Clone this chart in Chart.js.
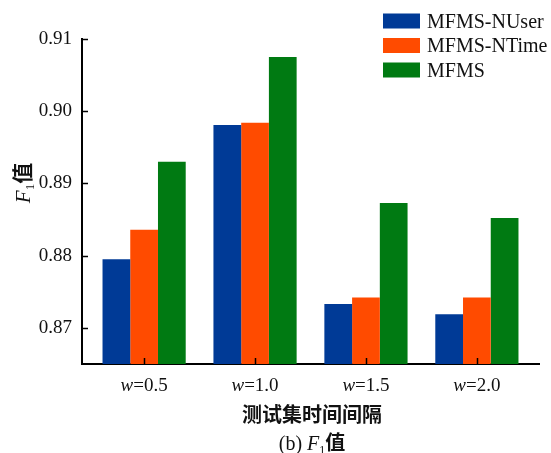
<!DOCTYPE html>
<html><head><meta charset="utf-8">
<script src="https://cdn.jsdelivr.net/npm/chart.js@4"></script>
<style>html,body{margin:0;background:#fff}</style>
</head><body>
<canvas id="c" width="551" height="453"></canvas>
<script>
// F1 scores per test-set time interval w
const categories = ['0.5', '1.0', '1.5', '2.0'];
const seriesNames = ['MFMS-NUser', 'MFMS-NTime', 'MFMS'];
const nuserValues = [0.8795, 0.8981, 0.8733, 0.8719];
const ntimeValues = [0.8836, 0.8984, 0.8742, 0.8742];
const mfmsValues  = [0.8930, 0.9075, 0.8873, 0.8852];
const yTicks = [0.87, 0.88, 0.89, 0.90, 0.91];
const seriesColors = ['#003a96', '#ff4b00', '#007a12'];

const SERIF = "'Liberation Serif', 'Times New Roman', serif";
const CJK = "'Noto Sans CJK SC', sans-serif";

const toPoints = vals => vals.map((v, i) => ({ x: i, y: v }));

// Draws "F" italic with subscript 1 followed by 值, centred horizontally on cx
function drawF1Label(ctx, cx, cy, size, prefix) {
  const parts = [];
  if (prefix) parts.push({ t: prefix, f: `${size}px ${SERIF}`, dy: 0 });
  parts.push({ t: 'F', f: `italic ${size}px ${SERIF}`, dy: 0 });
  parts.push({ t: '1', f: `${Math.round(size * 0.62)}px ${SERIF}`, dy: size * 0.18 });
  parts.push({ t: '值', f: `bold ${size}px ${CJK}`, dy: 0 });
  let total = 0;
  parts.forEach(p => { ctx.font = p.f; p.w = ctx.measureText(p.t).width; total += p.w; });
  let x = cx - total / 2;
  ctx.textBaseline = 'alphabetic';
  ctx.textAlign = 'left';
  parts.forEach(p => { ctx.font = p.f; ctx.fillText(p.t, x, cy + p.dy); x += p.w; });
}

const decorations = {
  id: 'decorations',
  afterDraw(chart) {
    const ctx = chart.ctx;
    const xs = chart.scales.x, ys = chart.scales.y;
    const area = chart.chartArea;
    ctx.save();
    ctx.strokeStyle = '#000';
    ctx.lineWidth = 1.5;
    // inward tick marks
    yTicks.forEach(v => {
      const py = Math.round(ys.getPixelForValue(v)) + 0.5;
      ctx.beginPath(); ctx.moveTo(area.left, py); ctx.lineTo(area.left + 6, py); ctx.stroke();
    });
    categories.forEach((c, i) => {
      const px = Math.round(xs.getPixelForValue(i)) + 0.5;
      ctx.beginPath(); ctx.moveTo(px, area.bottom); ctx.lineTo(px, area.bottom - 6); ctx.stroke();
    });
    ctx.fillStyle = '#111';
    // category labels: italic w + "=value"
    categories.forEach((c, i) => {
      const px = xs.getPixelForValue(i);
      const a = 'w', b = '=' + c;
      ctx.font = `italic 19px ${SERIF}`; const wa = ctx.measureText(a).width;
      ctx.font = `19px ${SERIF}`; const wb = ctx.measureText(b).width;
      let x0 = px - (wa + wb) / 2;
      ctx.textAlign = 'left'; ctx.textBaseline = 'alphabetic';
      ctx.font = `italic 19px ${SERIF}`; ctx.fillText(a, x0, 390.5);
      ctx.font = `19px ${SERIF}`; ctx.fillText(b, x0 + wa, 390.5);
    });
    // axis title
    ctx.font = `bold 20px ${CJK}`;
    ctx.textAlign = 'center'; ctx.textBaseline = 'middle';
    ctx.fillText('测试集时间间隔', 312, 414);
    // caption
    drawF1Label(ctx, 312, 450, 20, '(b) ');
    // y title, rotated
    ctx.save();
    ctx.translate(30, 183);
    ctx.rotate(-Math.PI / 2);
    drawF1Label(ctx, 0, 0, 21, '');
    ctx.restore();
    // legend
    chart.data.datasets.forEach((ds, i) => {
      const cy = 21 + i * 24.5;
      ctx.fillStyle = ds.backgroundColor;
      ctx.fillRect(383, cy - 7.5, 37, 15);
      ctx.fillStyle = '#111';
      ctx.font = `20px ${SERIF}`;
      ctx.textAlign = 'left'; ctx.textBaseline = 'alphabetic';
      ctx.fillText(ds.label, 427, cy + 6.5);
    });
    ctx.restore();
  }
};

new Chart(document.getElementById('c'), {
  type: 'bar',
  data: {
    datasets: [
      { label: seriesNames[0], data: toPoints(nuserValues), backgroundColor: seriesColors[0] },
      { label: seriesNames[1], data: toPoints(ntimeValues), backgroundColor: seriesColors[1] },
      { label: seriesNames[2], data: toPoints(mfmsValues),  backgroundColor: seriesColors[2] }
    ]
  },
  options: {
    responsive: false,
    devicePixelRatio: 1,
    animation: false,
    categoryPercentage: 0.75,
    barPercentage: 1.0,
    layout: { padding: { top: 39, right: 12, left: 0, bottom: 0 } },
    plugins: { legend: { display: false }, tooltip: { enabled: false } },
    scales: {
      x: {
        type: 'linear',
        offset: false,
        min: -0.56, max: 3.56,
        afterBuildTicks: s => { s.ticks = categories.map((c, i) => ({ value: i })); },
        afterFit: s => { s.height = 89; },
        ticks: { display: false },
        grid: { display: false, drawTicks: false, offset: false },
        border: { display: true, color: '#000', width: 2 }
      },
      y: {
        min: 0.865, max: 0.91,
        afterBuildTicks: s => { s.ticks = yTicks.map(v => ({ value: v })); },
        afterFit: s => { s.width = 82; },
        ticks: {
          callback: v => Number(v).toFixed(2),
          font: { family: SERIF, size: 19 },
          color: '#111',
          padding: 10
        },
        grid: { display: false, drawTicks: false },
        border: { display: true, color: '#000', width: 2 }
      }
    }
  },
  plugins: [decorations]
});
</script>
</body></html>
